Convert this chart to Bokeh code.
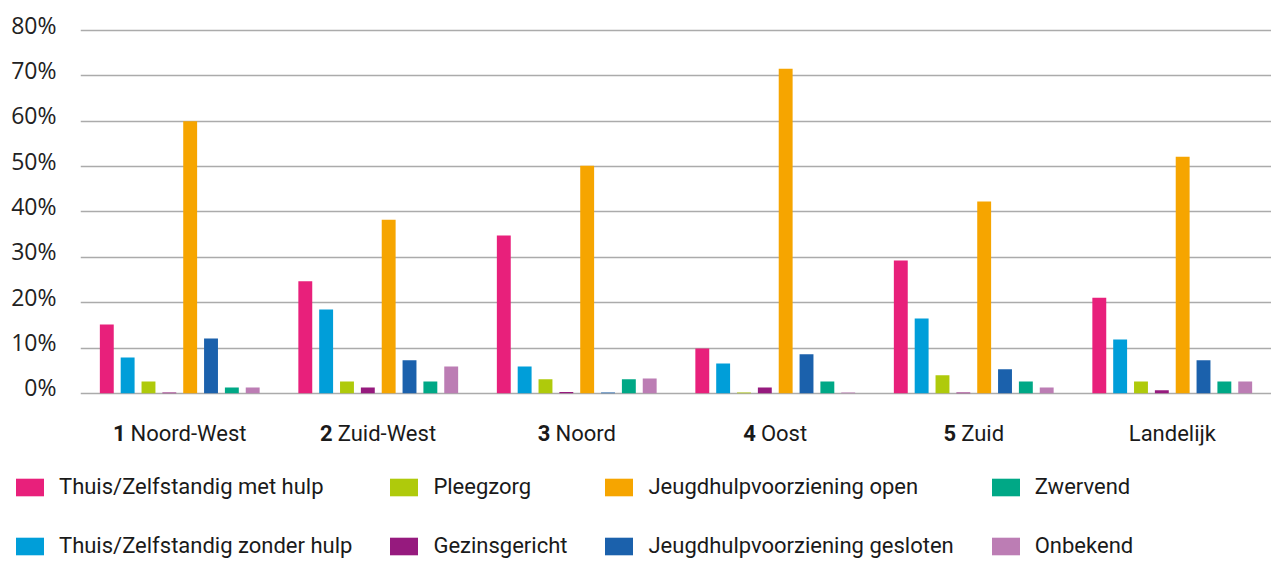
from bokeh.plotting import figure
from bokeh.layouts import column
from bokeh.models import FactorRange, FixedTicker, Legend, LegendItem, ColumnDataSource, Range1d
from bokeh.transform import dodge
from bokeh.core.properties import value
from bokeh.embed import file_html
from bokeh.resources import INLINE

# ---------------- data ----------------
regions = ["1 Noord-West", "2 Zuid-West", "3 Noord", "4 Oost", "5 Zuid", "Landelijk"]
region_numbers = ["1", "2", "3", "4", "5", ""]
region_names = ["Noord-West", "Zuid-West", "Noord", "Oost", "Zuid", "Landelijk"]

series_names = [
    "Thuis/Zelfstandig met hulp",
    "Thuis/Zelfstandig zonder hulp",
    "Pleegzorg",
    "Gezinsgericht",
    "Jeugdhulpvoorziening open",
    "Jeugdhulpvoorziening gesloten",
    "Zwervend",
    "Onbekend",
]
met_hulp = [15.2, 24.7, 34.8, 9.9, 29.3, 21.1]
zonder_hulp = [7.9, 18.5, 5.9, 6.6, 16.5, 11.9]
pleegzorg = [2.6, 2.6, 3.1, 0.2, 4.0, 2.6]
gezinsgericht = [0.2, 1.3, 0.3, 1.3, 0.2, 0.7]
jeugdhulp_open = [60.0, 38.3, 50.2, 71.6, 42.3, 52.2]
jeugdhulp_gesloten = [12.1, 7.3, 0.2, 8.6, 5.3, 7.3]
zwervend = [1.3, 2.6, 3.1, 2.6, 2.6, 2.6]
onbekend = [1.3, 5.9, 3.3, 0.2, 1.3, 2.6]

y_ticks = [0, 10, 20, 30, 40, 50, 60, 70, 80]
y_tick_labels = ["0%", "10%", "20%", "30%", "40%", "50%", "60%", "70%", "80%"]

# ---------------- style ----------------
colors = ["#e8207b", "#009ed9", "#afca0b", "#961a7e", "#f6a500", "#1b61ac", "#00a886", "#bc7db4"]
series_values = [met_hulp, zonder_hulp, pleegzorg, gezinsgericht,
                 jeugdhulp_open, jeugdhulp_gesloten, zwervend, onbekend]
keys = ["s%d" % i for i in range(len(series_names))]

data = {"region": regions}
for k, v in zip(keys, series_values):
    data[k] = v
src = ColumnDataSource(data)

W = 1271
p = figure(
    x_range=FactorRange(*regions, range_padding=0, factor_padding=0),
    y_range=Range1d(-11.5, 82),
    width=W, height=450,
    output_backend="svg", toolbar_location=None,
    x_axis_location=None,
    min_border_left=80, min_border_right=0, min_border_top=21, min_border_bottom=5,
)
p.outline_line_color = None
p.xgrid.visible = False
p.ygrid.ticker = FixedTicker(ticks=y_ticks)
p.ygrid.grid_line_color = "#ababab"
p.ygrid.grid_line_width = 1.6

# y-axis: labels sit just above their gridline
lab_shift = 1.3
p.yaxis.ticker = FixedTicker(ticks=[t + lab_shift for t in y_ticks])
p.yaxis.major_label_overrides = {t + lab_shift: l for t, l in zip(y_ticks, y_tick_labels)}
p.yaxis.axis_line_color = None
p.yaxis.major_tick_line_color = None
p.yaxis.minor_tick_line_color = None
p.yaxis.major_label_standoff = 18
p.yaxis.major_label_text_font = "Open Sans"
p.yaxis.major_label_text_font_size = "23px"
p.yaxis.major_label_text_color = "#222222"

step = 0.105
bar_w = 0.07
n = len(keys)
for i, (k, c) in enumerate(zip(keys, colors)):
    p.vbar(x=dodge("region", (i - (n - 1) / 2) * step, range=p.x_range),
           top=k, bottom=0, width=bar_w, source=src,
           fill_color=c, line_color=None)

# ---------------- category labels (bold number + name) ----------------
font_px = 22
cw = {"N": 0.70, "o": 0.57, "r": 0.34, "d": 0.56, "-": 0.28, "W": 0.88, "e": 0.53,
      "s": 0.52, "t": 0.33, "Z": 0.60, "u": 0.55, "i": 0.24, "O": 0.69, "L": 0.54,
      "a": 0.54, "n": 0.55, "l": 0.24, "j": 0.24, "k": 0.51}

def est_w(s):
    return sum(cw.get(ch, 0.55) for ch in s) * font_px

num_off, name_off = [], []
for num, name in zip(region_numbers, region_names):
    wn = 0.58 * font_px if num else 0.0
    gap = 5.0 if num else 0.0
    total = wn + gap + est_w(name)
    left = -total / 2
    num_off.append(left + wn)
    name_off.append(left + wn + gap)

lab_src = ColumnDataSource(dict(region=regions, num=region_numbers, name=region_names,
                                num_off=num_off, name_off=name_off))
label_y = -8.8
p.text(x="region", y=label_y, text="num", x_offset="num_off", source=lab_src,
       text_align="right", text_baseline="alphabetic",
       text_font=value("Roboto"), text_font_style="bold",
       text_font_size="%dpx" % font_px, text_color="#1a1a1a")
p.text(x="region", y=label_y, text="name", x_offset="name_off", source=lab_src,
       text_align="left", text_baseline="alphabetic",
       text_font=value("Roboto"), text_font_size="%dpx" % font_px, text_color="#1a1a1a")

# ---------------- legend (own strip below the chart) ----------------
lf = figure(width=W, height=108, output_backend="svg", toolbar_location=None,
            x_range=Range1d(0, 1), y_range=Range1d(0, 1),
            x_axis_location=None, y_axis_location=None,
            min_border_left=0, min_border_right=0, min_border_top=0, min_border_bottom=0)
lf.outline_line_color = None
lf.grid.visible = False
for fig in (p, lf):
    if hasattr(fig, "frame_align"):
        fig.frame_align = False

items = []
for s, c in zip(series_names, colors):
    # legend proxy: a zero-height bar outside the visible strip
    r = lf.vbar(x=[5], top=[0], bottom=[0], width=0.1, fill_color=c, line_color=None)
    items.append(LegendItem(label=s, renderers=[r], index=0))
legend = Legend(items=items, location=(12, 0), orientation="vertical", nrows=2,
                glyph_width=35, glyph_height=22, label_standoff=12, spacing=34,
                padding=0, margin=0, border_line_color=None, background_fill_alpha=0,
                label_text_font="Roboto", label_text_font_size="22px",
                label_text_color="#1a1a1a", label_height=22)
lf.add_layout(legend)

layout = column(p, lf, spacing=0)
open("out.html", "w").write(file_html(layout, INLINE))
